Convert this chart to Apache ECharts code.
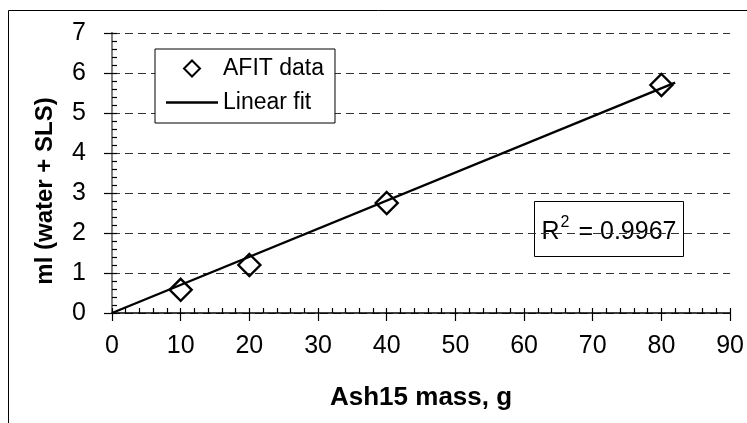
<!DOCTYPE html>
<html>
<head>
<meta charset="utf-8">
<script src="https://cdn.jsdelivr.net/npm/echarts@6/dist/echarts.min.js"></script>
<style>
  html, body { margin: 0; padding: 0; background: #fff; }
  #chart { width: 747px; height: 423px; }
</style>
</head>
<body>
<div id="chart"></div>
<script>
// Measured samples: Ash15 mass (g) vs. volume of water + SLS (ml)
const massG = [10, 20, 40, 80];
const volumeMl = [0.58, 1.2, 2.75, 5.7];

// Linear fit endpoints
const fitMass = [0, 82];
const fitVolume = [0, 5.76];

const rSquared = '0.9967';
const seriesNames = ['AFIT data', 'Linear fit'];

const FONT = '"Liberation Sans", Arial, Helvetica, sans-serif';

const chart = echarts.init(document.getElementById('chart'), null, { renderer: 'canvas' });

const hidden = { show: false };

chart.setOption({
  backgroundColor: '#fff',
  animation: false,
  textStyle: { fontFamily: FONT, color: '#000' },
  grid: { left: 112, top: 33, right: 11.5, bottom: 110, containLabel: false },
  xAxis: [
    {
      type: 'value', min: 0, max: 90, interval: 10, position: 'bottom',
      name: 'Ash15 mass, g', nameLocation: 'middle', nameGap: 72,
      nameTextStyle: { fontFamily: FONT, fontSize: 26, fontWeight: 'bold', color: '#000' },
      axisLine: { show: true, onZero: false, lineStyle: { color: '#000', width: 1.5 } },
      axisTick: { show: true, inside: false, length: 8, lineStyle: { color: '#000', width: 1.2 } },
      axisLabel: { show: true, margin: 21, fontFamily: FONT, fontSize: 25, color: '#000' },
      splitLine: hidden
    },
    {
      type: 'value', min: 0, max: 90, interval: 2, position: 'bottom',
      axisLine: hidden,
      axisTick: { show: true, inside: true, length: 5, lineStyle: { color: '#000', width: 1.2 } },
      axisLabel: hidden, splitLine: hidden
    }
  ],
  yAxis: [
    {
      type: 'value', min: 0, max: 7, interval: 1, position: 'left',
      name: 'ml (water + SLS)', nameLocation: 'middle', nameGap: 55, nameRotate: 90,
      nameTextStyle: { fontFamily: FONT, fontSize: 24, fontWeight: 'bold', color: '#000', padding: [0, 36, 0, 0] },
      axisLine: { show: true, onZero: false, lineStyle: { color: '#000', width: 1.5 } },
      axisTick: { show: true, inside: false, length: 8, lineStyle: { color: '#000', width: 1.2 } },
      axisLabel: { show: true, margin: 26, fontFamily: FONT, fontSize: 25, color: '#000' },
      splitLine: { show: true, lineStyle: { color: '#333', width: 1, type: [8, 5] } }
    },
    {
      type: 'value', min: 0, max: 7, interval: 0.2, position: 'left',
      axisLine: hidden,
      axisTick: { show: true, inside: true, length: 5, lineStyle: { color: '#000', width: 1.2 } },
      axisLabel: hidden, splitLine: hidden
    },
    {
      type: 'value', min: 0, max: 7, interval: 1, position: 'right',
      axisLine: { show: true, lineStyle: { color: '#808080', width: 2 } },
      axisTick: hidden, axisLabel: hidden, splitLine: hidden
    }
  ],
  legend: {
    orient: 'vertical',
    left: 155, top: 49,
    padding: [8, 11, 9, 11],
    itemWidth: 52, itemHeight: 16, itemGap: 11,
    symbolKeepAspect: true,
    backgroundColor: '#fff',
    borderColor: '#000', borderWidth: 1,
    textStyle: { fontFamily: FONT, fontSize: 23, color: '#000' },
    data: [
      { name: seriesNames[0], icon: 'path://M8,0L16,8L8,16L0,8Z' },
      { name: seriesNames[1], icon: 'path://M0,0H52V2.4H0Z' }
    ]
  },
  series: [
    {
      name: seriesNames[0],
      type: 'scatter',
      xAxisIndex: 0, yAxisIndex: 0,
      symbol: 'diamond', symbolSize: 22,
      itemStyle: { color: 'rgba(255,255,255,0)', borderColor: '#000', borderWidth: 2.4, opacity: 1 },
      data: massG.map((m, i) => [m, volumeMl[i]]),
      z: 3
    },
    {
      name: seriesNames[1],
      type: 'line',
      xAxisIndex: 0, yAxisIndex: 0,
      showSymbol: false, symbol: 'none',
      lineStyle: { color: '#000', width: 2.4 },
      itemStyle: { color: '#000' },
      data: fitMass.map((m, i) => [m, fitVolume[i]]),
      z: 4
    }
  ],
  graphic: [
    {
      type: 'rect', silent: true, z: -10,
      shape: { x: 8.5, y: 10.5, width: 760, height: 430 },
      style: { fill: 'none', stroke: '#000', lineWidth: 1 }
    },
    {
      type: 'group', left: 534, top: 201, z: 100,
      children: [
        {
          type: 'rect',
          shape: { x: 0.5, y: 0.5, width: 149, height: 55 },
          style: { fill: '#fff', stroke: '#000', lineWidth: 1 }
        },
        {
          type: 'text',
          x: 75, y: 29,
          style: {
            text: '{r|R}{s|2}{r| = ' + rSquared + '}',
            align: 'center', verticalAlign: 'middle',
            rich: {
              r: { fontFamily: FONT, fontSize: 25, lineHeight: 30, color: '#000', verticalAlign: 'bottom' },
              s: { fontFamily: FONT, fontSize: 16, lineHeight: 30, color: '#000', verticalAlign: 'top', padding: [0, 2, 0, 1] }
            }
          }
        }
      ]
    }
  ]
});
</script>
</body>
</html>
